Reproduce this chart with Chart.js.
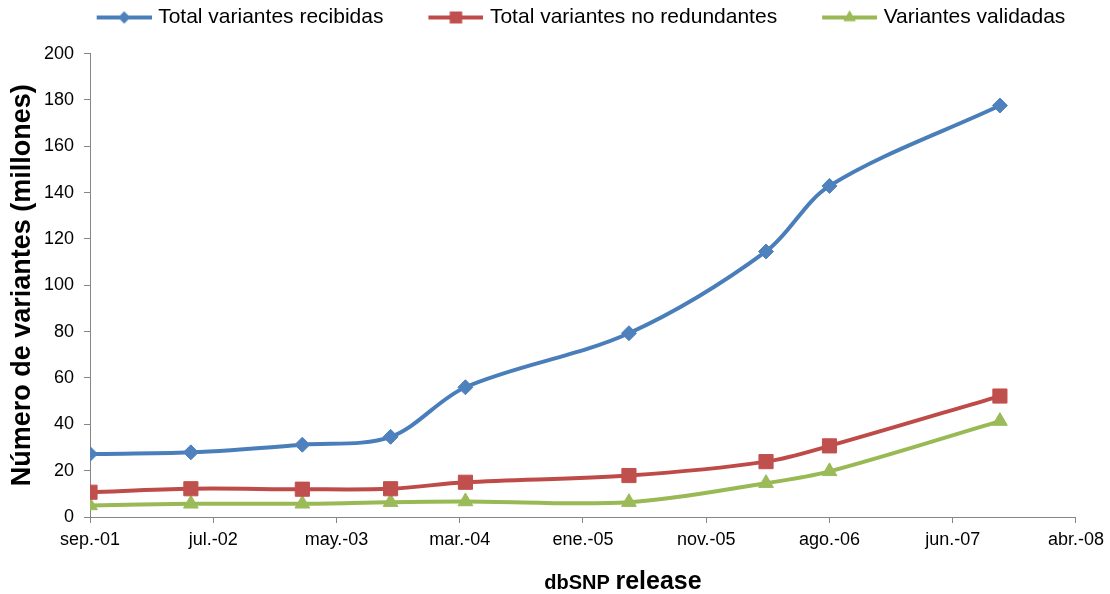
<!DOCTYPE html>
<html>
<head>
<meta charset="utf-8">
<script src="https://cdn.jsdelivr.net/npm/chart.js@4.4.1/dist/chart.umd.min.js"></script>
<style>
  html, body { margin: 0; padding: 0; background: #ffffff; }
  #c { display: block; }
</style>
</head>
<body>
<canvas id="c" width="1110" height="594"></canvas>
<script>
// ---- data ----
const axisStart = '2001-09-08';
const tickStepDays = 303;
const tickLabels = ['sep.-01', 'jul.-02', 'may.-03', 'mar.-04', 'ene.-05', 'nov.-05', 'ago.-06', 'jun.-07', 'abr.-08'];
const releaseDates = ['2001-09-08', '2002-05-14', '2003-02-12', '2003-09-17', '2004-03-19', '2005-04-25', '2006-03-28', '2006-08-31', '2007-10-24'];
const totalRecibidas = [27.2, 27.9, 31.2, 34.6, 56.0, 79.3, 114.6, 142.9, 177.6];
const totalNoRedundantes = [10.7, 12.2, 12.0, 12.2, 15.0, 17.9, 23.9, 30.7, 52.2];
const variantesValidadas = [5.0, 5.7, 5.7, 6.4, 6.7, 6.4, 14.6, 19.7, 41.4];
const seriesNames = ['Total variantes recibidas', 'Total variantes no redundantes', 'Variantes validadas'];
const yAxisTitle = 'Número de variantes (millones)';
const xAxisTitleParts = ['dbSNP', 'release'];

// ---- helpers ----
const DAY = 86400000;
const t0 = Date.parse(axisStart);
const xDays = releaseDates.map(d => Math.round((Date.parse(d) - t0) / DAY));
const toPoints = vals => vals.map((v, i) => ({ x: xDays[i], y: v }));

const FONT = "'Liberation Sans', Arial, sans-serif";
const styles = [
  { line: '#4A7EBB', fill: '#4F81BD', marker: 'rectRot', radius: 7.5, legendRadius: 6 },
  { line: '#BE4B48', fill: '#C0504D', marker: 'rect', radius: 10, legendRadius: 8.5 },
  { line: '#98B954', fill: '#9BBB59', marker: 'triangle', radius: 8.5, legendRadius: 7 }
];
const seriesValues = [totalRecibidas, totalNoRedundantes, variantesValidadas];

// legend icons: a short line with the marker in its middle
const ICON_BOX = 89;
function makeIcon(st) {
  const W = ICON_BOX + 8, H = 22;
  const cv = document.createElement('canvas');
  cv.width = W; cv.height = H;
  const g = cv.getContext('2d');
  const x2 = W, x1 = W - 55, cy = H / 2;
  g.strokeStyle = st.line; g.lineWidth = 4; g.lineCap = 'butt';
  g.beginPath(); g.moveTo(x1, cy); g.lineTo(x2, cy); g.stroke();
  g.fillStyle = st.fill;
  Chart.helpers.drawPoint(g, { pointStyle: st.marker, radius: st.legendRadius, borderWidth: 0, rotation: 0 }, (x1 + x2) / 2, cy);
  g.fill();
  return cv;
}

// nudge the legend row to the reference's horizontal position
const legendShift = {
  id: 'legendShift',
  afterLayout(chart) {
    const lg = chart.legend;
    if (lg) { lg.left += 24; lg.right += 24; }
  }
};

// x-axis title with mixed sizes (as in the original)
const xTitlePlugin = {
  id: 'xTitle',
  afterDraw(chart) {
    const ctx = chart.ctx;
    ctx.save();
    ctx.fillStyle = '#000';
    ctx.textBaseline = 'alphabetic';
    const f1 = "bold 20px " + FONT, f2 = "bold 25px " + FONT;
    ctx.font = f1; const w1 = ctx.measureText(xAxisTitleParts[0] + ' ').width;
    ctx.font = f2; const w2 = ctx.measureText(xAxisTitleParts[1]).width;
    const cx = 623;
    const x = cx - (w1 + w2) / 2;
    const y = 589;
    ctx.font = f1; ctx.fillText(xAxisTitleParts[0] + ' ', x, y);
    ctx.font = f2; ctx.fillText(xAxisTitleParts[1], x + w1, y);
    ctx.restore();
  }
};

const datasets = seriesNames.map((name, i) => ({
  label: name,
  data: toPoints(seriesValues[i]),
  borderColor: styles[i].line,
  backgroundColor: styles[i].fill,
  borderWidth: 4,
  tension: 0.33,
  pointStyle: styles[i].marker,
  pointRadius: styles[i].radius,
  pointHoverRadius: styles[i].radius,
  pointBackgroundColor: styles[i].fill,
  pointBorderColor: styles[i].fill,
  pointBorderWidth: 1,
  fill: false
}));

new Chart(document.getElementById('c'), {
  type: 'line',
  data: { datasets },
  options: {
    responsive: false,
    devicePixelRatio: 1,
    animation: false,
    layout: { padding: { left: 0, right: 34, top: 0, bottom: 0 } },
    plugins: {
      tooltip: { enabled: false },
      title: { display: true, text: ' ', weight: 500, position: 'top', padding: 0, font: { size: 13 } },
      legend: {
        position: 'top',
        fullSize: true,
        labels: {
          usePointStyle: true,
          pointStyleWidth: ICON_BOX,
          padding: 7,
          color: '#000',
          font: { family: FONT, size: 21 },
          generateLabels(chart) {
            return chart.data.datasets.map((ds, i) => ({
              text: ds.label,
              pointStyle: makeIcon(styles[i]),
              fillStyle: styles[i].fill,
              strokeStyle: styles[i].line,
              lineWidth: 0,
              fontColor: '#000',
              hidden: false,
              datasetIndex: i
            }));
          }
        }
      }
    },
    scales: {
      x: {
        type: 'linear',
        min: 0,
        max: tickStepDays * (tickLabels.length - 1),
        afterBuildTicks(scale) {
          scale.ticks = tickLabels.map((_, i) => ({ value: i * tickStepDays }));
        },
        afterFit(scale) { scale.height = 77; },
        border: { color: '#868686', width: 1 },
        grid: { drawOnChartArea: false, drawTicks: true, tickLength: 6, color: '#868686' },
        ticks: {
          color: '#000',
          font: { family: FONT, size: 18 },
          padding: 6,
          maxRotation: 0,
          autoSkip: false,
          callback(value, index) { return tickLabels[index]; }
        }
      },
      y: {
        min: 0,
        max: 200,
        afterFit(scale) { scale.width = 90; },
        border: { color: '#868686', width: 1 },
        grid: { drawOnChartArea: false, drawTicks: true, tickLength: 6, color: '#868686' },
        ticks: {
          stepSize: 20,
          color: '#000',
          font: { family: FONT, size: 18 },
          padding: 10
        },
        title: {
          display: true,
          text: yAxisTitle,
          color: '#000',
          font: { family: FONT, size: 27, weight: 'bold' },
          padding: { top: 6, bottom: 0 }
        }
      }
    }
  },
  plugins: [legendShift, xTitlePlugin]
});
</script>
</body>
</html>
